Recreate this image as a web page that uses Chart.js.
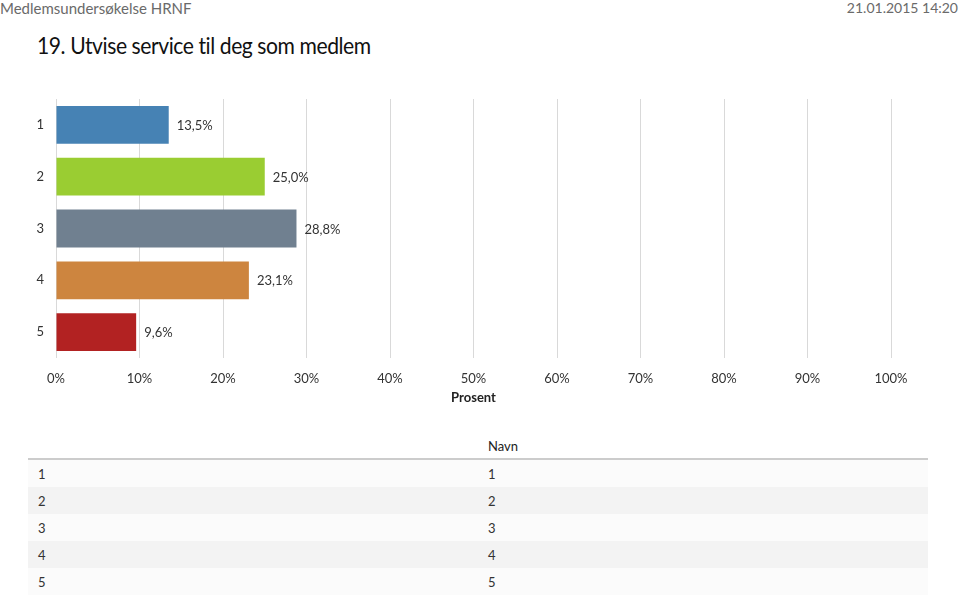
<!DOCTYPE html>
<html>
<head>
<meta charset="utf-8">
<script src="https://cdn.jsdelivr.net/npm/chart.js@4/dist/chart.umd.min.js"></script>
<style>
  body { margin: 0; width: 960px; height: 595px; overflow: hidden; background: #fff; font-family: Lato, "Open Sans", sans-serif; position: relative; }
  #hdr { position: absolute; left: 0; top: -1px; font-size: 15px; color: #6a6a6a; }
  #date { position: absolute; right: 2px; top: -1px; font-size: 14px; color: #6a6a6a; }
  #title { position: absolute; left: 37px; top: 30px; font-size: 24px; color: #111; letter-spacing: -0.5px; transform: scaleX(0.88); transform-origin: left top; white-space: nowrap; }
  #wrap { position: absolute; left: 0; top: 85px; width: 960px; height: 330px; }
  table { position: absolute; left: 28px; top: 433px; width: 900px; border-collapse: collapse; font-size: 13px; color: #333; }
  th { text-align: left; font-weight: normal; height: 25px; padding: 0 10px; border-bottom: 2px solid #ccc; color: #222; }
  td { height: 27px; padding: 0 10px; }
  tr:nth-child(odd) td { background: #fbfbfb; }
  tr:nth-child(even) td { background: #f3f3f3; }
</style>
</head>
<body>
<div id="hdr">Medlemsundersøkelse HRNF</div>
<div id="date">21.01.2015 14:20</div>
<div id="title">19. Utvise service til deg som medlem</div>
<div id="wrap"><canvas id="chart"></canvas></div>
<table>
  <thead><tr><th style="width:430px"></th><th>Navn</th></tr></thead>
  <tbody id="rows"></tbody>
</table>
<script>
const categories = ['1', '2', '3', '4', '5'];
const names = ['1', '2', '3', '4', '5'];
const percents = [13.5, 25.0, 28.8, 23.1, 9.6];
const barColors = ['#4682b4', '#9acd32', '#708090', '#cd853f', '#b22222'];

document.getElementById('rows').innerHTML = categories
  .map((c, i) => `<tr><td>${c}</td><td>${names[i]}</td></tr>`).join('');

const fmt = v => v.toFixed(1).replace('.', ',') + '%';

// value label at the end of each bar
const valueLabels = {
  id: 'valueLabels',
  afterDatasetsDraw(chart) {
    const ctx = chart.ctx;
    const meta = chart.getDatasetMeta(0);
    ctx.save();
    ctx.font = '13px Lato, sans-serif';
    ctx.fillStyle = '#333';
    ctx.textBaseline = 'middle';
    meta.data.forEach((bar, i) => {
      ctx.fillText(fmt(percents[i]), bar.x + 8, bar.y + 1);
    });
    ctx.restore();
  }
};

new Chart(document.getElementById('chart'), {
  type: 'bar',
  data: {
    labels: categories,
    datasets: [{
      data: percents,
      backgroundColor: barColors,
      barPercentage: 0.73,
      categoryPercentage: 1
    }]
  },
  options: {
    indexAxis: 'y',
    responsive: true,
    maintainAspectRatio: false,
    animation: false,
    layout: { padding: { left: 0, right: 69, top: 14, bottom: 0 } },
    plugins: { legend: { display: false }, tooltip: { enabled: false } },
    scales: {
      x: {
        min: 0,
        max: 100,
        grid: { color: '#d9d9d9', lineWidth: 1, drawTicks: false },
        border: { display: false },
        ticks: {
          stepSize: 10,
          padding: 13,
          color: '#333',
          font: { family: 'Lato', size: 13 },
          callback: v => v + '%'
        },
        title: {
          display: true,
          text: 'Prosent',
          color: '#222',
          font: { family: 'Lato', size: 13, weight: 'bold' },
          padding: { top: 2, bottom: 9 }
        },
        afterFit: s => { s.height = 57; }
      },
      y: {
        grid: { display: false },
        border: { display: false },
        ticks: { color: '#333', padding: 4, font: { family: 'Lato', size: 13 } },
        afterFit: s => { s.width = 56; }
      }
    }
  },
  plugins: [valueLabels]
});
</script>
</body>
</html>
